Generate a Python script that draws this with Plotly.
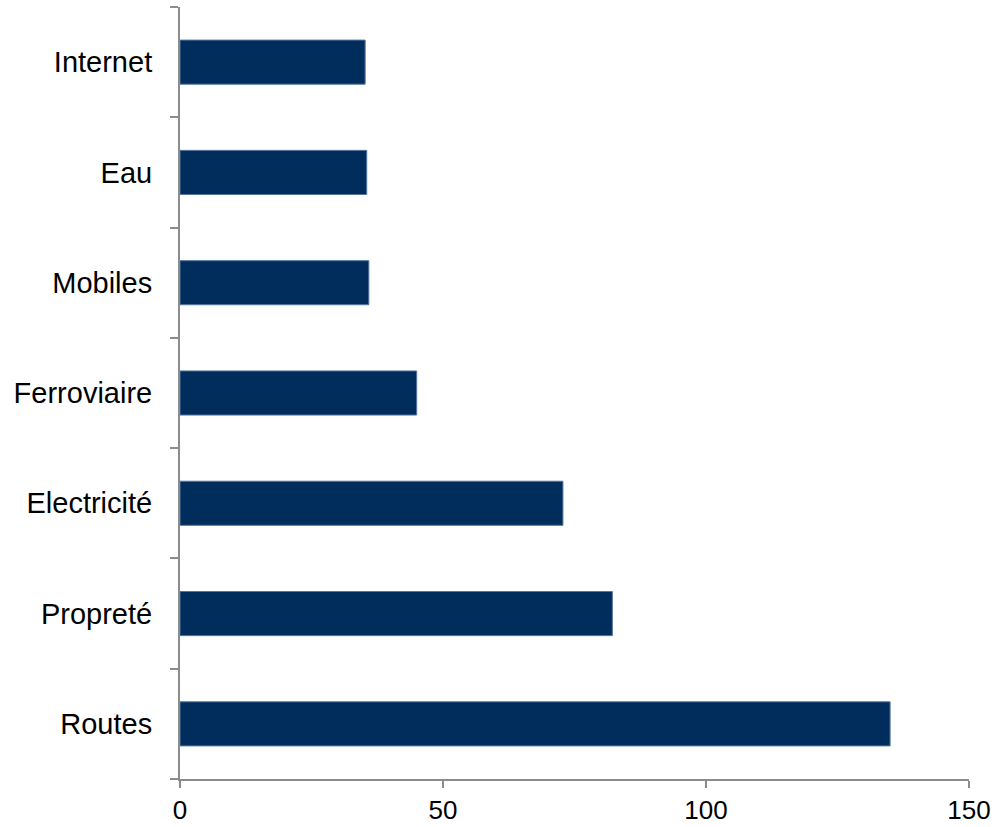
import plotly.graph_objects as go

categories = ["Routes", "Propreté", "Electricité", "Ferroviaire", "Mobiles", "Eau", "Internet"]
values = [135, 82.2, 72.8, 45, 35.9, 35.5, 35.2]
x_ticks = [0, 50, 100, 150]

fig = go.Figure(go.Bar(
    x=values, y=categories, orientation="h",
    marker=dict(color="#002D5C", line=dict(color="#5677a0", width=1)),
    width=0.4,
))

axis_color = "#8c8c8c"
fig.update_layout(
    width=997, height=827,
    margin=dict(l=180, r=28, t=7, b=48),
    plot_bgcolor="white", paper_bgcolor="white",
    font=dict(family="Liberation Sans, Arial, sans-serif", size=27, color="black"),
    showlegend=False,
    xaxis=dict(range=[0, 150], tickvals=x_ticks, showgrid=False, zeroline=False,
               showline=True, linecolor=axis_color, linewidth=2,
               ticks="outside", ticklen=7, tickwidth=2, tickcolor=axis_color,
               tickfont=dict(size=26),
               ticklabelstandoff=0, automargin=False),
    yaxis=dict(type="category", categoryarray=categories, range=[-0.5, 6.5],
               showgrid=False, zeroline=False,
               showline=True, linecolor=axis_color, linewidth=2,
               ticks="outside", ticklen=8, tickwidth=2, tickcolor=axis_color,
               tickfont=dict(size=29),
               tickson="boundaries", ticklabelstandoff=20, automargin=False),
)

fig.write_html("out.html")
